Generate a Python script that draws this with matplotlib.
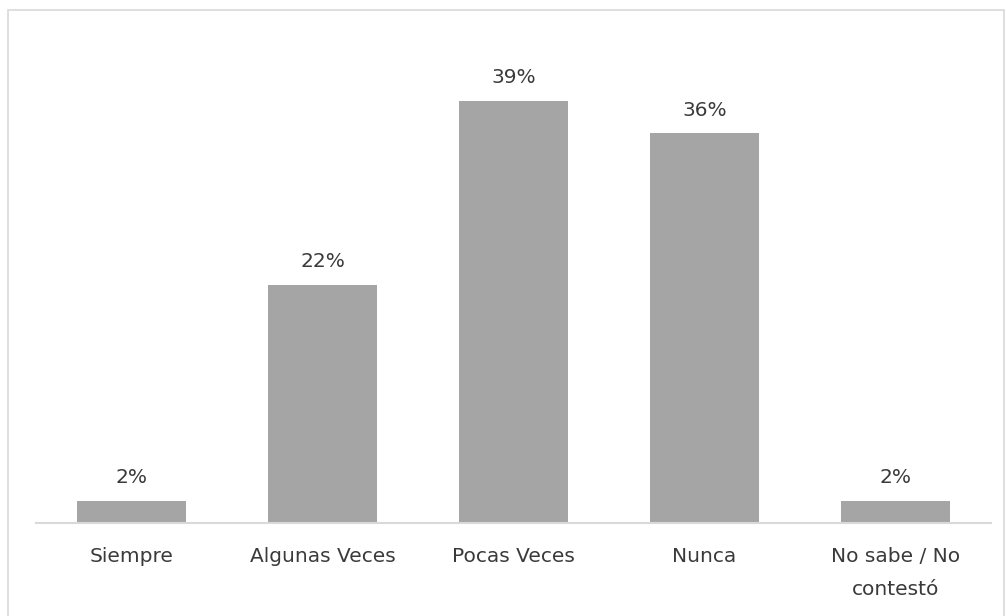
import matplotlib.pyplot as plt
from matplotlib.patches import Rectangle

categories = ["Siempre", "Algunas Veces", "Pocas Veces", "Nunca", "No sabe / No\ncontestó"]
values = [2, 22, 39, 36, 2]

BAR_COLOR = "#a5a5a5"
TEXT_COLOR = "#3a3a3a"
LINE_COLOR = "#d9d9d9"

plt.rcParams["font.family"] = ["DejaVu Sans"]

fig = plt.figure(figsize=(10.06, 6.16), dpi=100)
ax = fig.add_axes([36 / 1006, 93 / 616, 955 / 1006, 487 / 616])

x = range(len(categories))
bars = ax.bar(x, values, width=0.57, color=BAR_COLOR, zorder=2)

for b, v in zip(bars, values):
    ax.annotate(f"{v}%", (b.get_x() + b.get_width() / 2, b.get_height()),
                xytext=(0, 10), textcoords="offset points",
                ha="center", va="bottom", fontsize=14.5, color=TEXT_COLOR)

ax.set_xlim(-0.5, 4.5)
ax.set_ylim(0, 45)
ax.set_xticks(list(x))
ax.set_xticklabels(categories, fontsize=14.5, color=TEXT_COLOR, linespacing=1.95)
ax.tick_params(axis="x", length=0, pad=17)
ax.set_yticks([])
for side in ["top", "right", "left"]:
    ax.spines[side].set_visible(False)
ax.spines["bottom"].set_color(LINE_COLOR)
ax.spines["bottom"].set_linewidth(1.5)

# chart frame
fig.patches.append(Rectangle((8 / 1006, -0.05), 996 / 1006, 1.05 - 10 / 616,
                             transform=fig.transFigure, fill=False,
                             edgecolor=LINE_COLOR, linewidth=1.2))

fig.savefig("out.png", dpi=100)
